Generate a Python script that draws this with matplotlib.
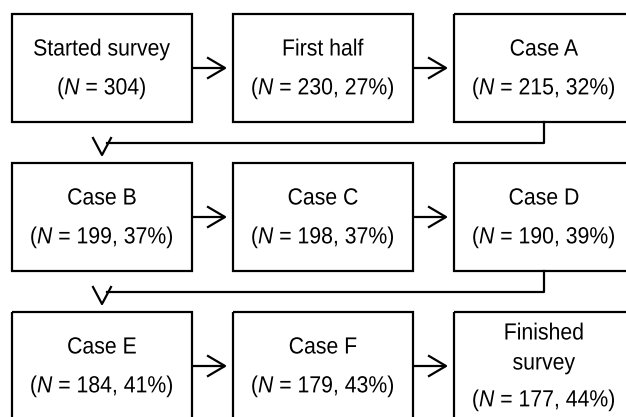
import matplotlib
matplotlib.use("Agg")
import matplotlib.pyplot as plt
from matplotlib.patches import Rectangle
from matplotlib.patheffects import AbstractPathEffect
from matplotlib.transforms import Affine2D

plt.rcParams.update({
    "font.family": "Liberation Sans",
    "mathtext.fontset": "custom",
    "mathtext.rm": "Liberation Sans",
    "mathtext.it": "Liberation Sans:italic",
})

# ── flow data (row by row, left to right) ─────────────────────
titles = [
    ["Started survey", "First half", "Case A"],
    ["Case B", "Case C", "Case D"],
    ["Case E", "Case F", "Finished\nsurvey"],
]
counts = [
    [304, 230, 215],
    [199, 198, 190],
    [184, 179, 177],
]
pcts = [
    [None, 27, 32],
    [37, 37, 39],
    [41, 43, 44],
]

# ── layout in pixel coords (626 x 417 canvas) ────────────────
COL_X = [12, 233, 454]
ROW_Y = [14, 163, 312]
BW, BH = 180, 108
LW = 1.6
FS = 16.8
SQUEEZE = 0.91   # reference text looks like slightly narrowed Arial


class HSqueeze(AbstractPathEffect):
    """Narrow the glyphs horizontally around the text anchor."""
    def __init__(self, cx, f):
        super().__init__()
        self.cx, self.f = cx, f

    def draw_path(self, renderer, gc, tpath, affine, rgbFace=None):
        t = affine + Affine2D().translate(-self.cx, 0).scale(self.f, 1).translate(self.cx, 0)
        renderer.draw_path(gc, tpath, t, rgbFace)


fig = plt.figure(figsize=(6.26, 4.17), dpi=100)
ax = fig.add_axes([0, 0, 1, 1])
ax.set_xlim(0, 626)
ax.set_ylim(417, 0)
ax.axis("off")


def label(n, p):
    if p is None:
        return f"($N$ = {n})"
    return f"($N$ = {n}, {p}%)"


def put(x, y, s):
    dx = ax.transData.transform((x, y))[0]
    ax.text(x, y, s, ha="center", va="center", fontsize=FS,
            path_effects=[HSqueeze(dx, SQUEEZE)])


for r in range(3):
    for c in range(3):
        x, y = COL_X[c], ROW_Y[r]
        ax.add_patch(Rectangle((x, y), BW, BH, fill=False,
                               edgecolor="black", lw=LW))
        cx = x + BW / 2
        t = titles[r][c]
        if "\n" in t:
            a, b = t.split("\n")
            put(cx, y + 21, a)
            put(cx, y + 51, b)
            put(cx, y + 88, label(counts[r][c], pcts[r][c]))
        else:
            put(cx, y + 35, t)
            put(cx, y + 74, label(counts[r][c], pcts[r][c]))

        # horizontal arrow to next box
        if c < 2:
            ym = y + BH / 2
            x0 = x + BW
            tip = COL_X[c + 1] - 8
            ax.plot([x0, tip], [ym, ym], color="black", lw=LW,
                    solid_capstyle="butt")
            ax.plot([tip - 17, tip, tip - 17], [ym - 10, ym, ym + 10],
                    color="black", lw=LW)

    # connector from last box down to first box of next row
    if r < 2:
        xr = COL_X[2] + BW / 2
        xl = COL_X[0] + BW / 2
        yb = ROW_Y[r] + BH
        yh = yb + 21
        ax.plot([xr, xr, xl + 5], [yb, yh, yh], color="black", lw=LW)
        tip_y = ROW_Y[r + 1] - 8
        ax.plot([xl - 9, xl, xl + 9], [tip_y - 17, tip_y, tip_y - 17],
                color="black", lw=LW)

fig.savefig("out.png", dpi=100, facecolor="white")
